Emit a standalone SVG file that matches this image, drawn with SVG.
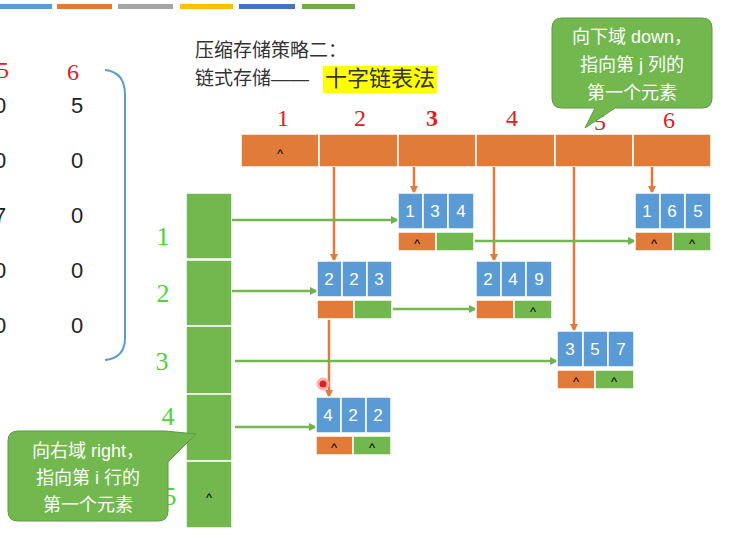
<svg xmlns="http://www.w3.org/2000/svg" width="746" height="538" viewBox="0 0 746 538">
<defs>
<marker id="ao" markerWidth="8" markerHeight="8" refX="7" refY="4" orient="auto" markerUnits="userSpaceOnUse"><path d="M0,0 L8,4 L0,8 z" fill="#E07B39"/></marker>
<marker id="ag" markerWidth="8" markerHeight="8" refX="7" refY="4" orient="auto" markerUnits="userSpaceOnUse"><path d="M0,0 L8,4 L0,8 z" fill="#70B050"/></marker>
</defs>
<style>
text{font-family:"Liberation Sans","Noto Sans CJK SC",sans-serif}
.b{fill:#5B9BD5;stroke:#fff;stroke-width:1.5}
.o{fill:#E07B39;stroke:#fff;stroke-width:1.5}
.g{fill:#72B84F;stroke:#fff;stroke-width:1.5}
.nt{fill:#fff;font-size:17px;text-anchor:middle}
.c{fill:#000;font-size:13px;text-anchor:middle}
.lo{stroke:#E07B39;stroke-width:2.5;fill:none;marker-end:url(#ao)}
.lg{stroke:#72B84F;stroke-width:2.5;fill:none;marker-end:url(#ag)}
.red{fill:#E02020;font-size:24px;font-family:"Liberation Serif",cursive;text-anchor:middle}
.grn{fill:#4FD33A;font-size:26px;font-family:"Liberation Serif",cursive;text-anchor:middle}
.m{fill:#222;font-size:22px;text-anchor:middle}
.ct{fill:#fff;font-size:18px;text-anchor:middle}
</style>
<rect width="746" height="538" fill="#fff"/>
<rect x="0" y="4" width="52" height="5" fill="#5B9BD5"/>
<rect x="57" y="4" width="55" height="5" fill="#E07B39"/>
<rect x="118" y="4" width="55" height="5" fill="#A5A5A5"/>
<rect x="180" y="4" width="53" height="5" fill="#FFC000"/>
<rect x="239" y="4" width="56" height="5" fill="#4472C4"/>
<rect x="302" y="4" width="53" height="5" fill="#70AD47"/>
<g id="matrix">
<text class="red" x="3" y="78">5</text><text class="red" x="73" y="80">6</text>
<text class="m" x="0" y="113">0</text><text class="m" x="77" y="113">5</text>
<text class="m" x="0" y="168">0</text><text class="m" x="77" y="168">0</text>
<text class="m" x="0" y="223">7</text><text class="m" x="77" y="223">0</text>
<text class="m" x="0" y="278">0</text><text class="m" x="77" y="278">0</text>
<text class="m" x="0" y="333">0</text><text class="m" x="77" y="333">0</text>
<path d="M105,70 Q125,72 125,95 L125,338 Q125,358 105,360" fill="none" stroke="#5B9BD5" stroke-width="2"/>
</g>
<g id="title">
<rect x="323" y="66" width="114" height="27" fill="#FFFF00"/>
<text x="195" y="57" font-size="19" fill="#333">压缩存储策略二：</text>
<text x="195" y="85" font-size="19" fill="#333">链式存储——</text>
<text x="325" y="86" font-size="22" fill="#333">十字链表法</text>
</g>
<g id="colhead">
<rect class="o" x="241" y="134" width="78" height="33"/>
<rect class="o" x="319" y="134" width="79" height="33"/>
<rect class="o" x="398" y="134" width="78" height="33"/>
<rect class="o" x="476" y="134" width="79" height="33"/>
<rect class="o" x="555" y="134" width="78" height="33"/>
<rect class="o" x="633" y="134" width="78" height="33"/>
<text class="c" x="280" y="158">^</text>
<text class="red" x="283" y="126">1</text><text class="red" x="360" y="126">2</text><text class="red" x="432" y="126" font-weight="bold">3</text><text class="red" x="512" y="126">4</text><text class="red" x="600" y="130">5</text><text class="red" x="669" y="128">6</text>
</g>
<g id="rowhead">
<rect class="g" x="186" y="193" width="46" height="66"/>
<rect class="g" x="186" y="260" width="46" height="66"/>
<rect class="g" x="186" y="326" width="46" height="68"/>
<rect class="g" x="186" y="394" width="46" height="67"/>
<rect class="g" x="186" y="461" width="46" height="67"/>
<text class="c" x="209" y="502">^</text>
<text class="grn" x="163" y="245">1</text><text class="grn" x="163" y="302">2</text><text class="grn" x="162" y="370">3</text><text class="grn" x="168" y="425">4</text><text class="grn" x="170" y="505">5</text>
</g>
<g id="connectors">
<line class="lo" x1="334" y1="167" x2="334" y2="261"/>
<line class="lo" x1="414" y1="167" x2="414" y2="193"/>
<line class="lo" x1="494" y1="167" x2="494" y2="261"/>
<line class="lo" x1="574" y1="167" x2="574" y2="331"/>
<line class="lo" x1="652" y1="167" x2="652" y2="193"/>
<line class="lo" x1="329" y1="318" x2="329" y2="397"/>
<line class="lg" x1="232" y1="220" x2="398" y2="220"/>
<line class="lg" x1="232" y1="291" x2="317" y2="291"/>
<line class="lg" x1="235" y1="361" x2="557" y2="361"/>
<line class="lg" x1="235" y1="427" x2="316" y2="427"/>
<line class="lg" x1="474" y1="241" x2="635" y2="241"/>
<line class="lg" x1="392" y1="309" x2="476" y2="309"/>
</g>
<g id="n134">
<rect class="b" x="398" y="193" width="25" height="36"/><rect class="b" x="423" y="193" width="25" height="36"/><rect class="b" x="448" y="193" width="26" height="36"/>
<text class="nt" x="410" y="217">1</text><text class="nt" x="435" y="217">3</text><text class="nt" x="461" y="217">4</text>
<rect class="o" x="398" y="232" width="38" height="19"/><rect class="g" x="436" y="232" width="38" height="19"/>
<text class="c" x="417" y="248">^</text>
</g>
<g id="n165">
<rect class="b" x="635" y="193" width="25" height="36"/><rect class="b" x="660" y="193" width="25" height="36"/><rect class="b" x="685" y="193" width="26" height="36"/>
<text class="nt" x="647" y="217">1</text><text class="nt" x="672" y="217">6</text><text class="nt" x="698" y="217">5</text>
<rect class="o" x="635" y="232" width="38" height="19"/><rect class="g" x="673" y="232" width="38" height="19"/>
<text class="c" x="654" y="248">^</text><text class="c" x="692" y="248">^</text>
</g>
<g id="n223">
<rect class="b" x="317" y="261" width="25" height="36"/><rect class="b" x="342" y="261" width="25" height="36"/><rect class="b" x="367" y="261" width="25" height="36"/>
<text class="nt" x="329" y="285">2</text><text class="nt" x="354" y="285">2</text><text class="nt" x="379" y="285">3</text>
<rect class="o" x="317" y="300" width="37" height="19"/><rect class="g" x="354" y="300" width="38" height="19"/>
</g>
<g id="n249">
<rect class="b" x="476" y="261" width="25" height="36"/><rect class="b" x="501" y="261" width="25" height="36"/><rect class="b" x="526" y="261" width="26" height="36"/>
<text class="nt" x="488" y="285">2</text><text class="nt" x="513" y="285">4</text><text class="nt" x="539" y="285">9</text>
<rect class="o" x="476" y="300" width="38" height="19"/><rect class="g" x="514" y="300" width="38" height="19"/>
<text class="c" x="533" y="316">^</text>
</g>
<g id="n357">
<rect class="b" x="557" y="331" width="26" height="36"/><rect class="b" x="583" y="331" width="25" height="36"/><rect class="b" x="608" y="331" width="26" height="36"/>
<text class="nt" x="570" y="355">3</text><text class="nt" x="595" y="355">5</text><text class="nt" x="621" y="355">7</text>
<rect class="o" x="557" y="370" width="38" height="19"/><rect class="g" x="595" y="370" width="39" height="19"/>
<text class="c" x="576" y="386">^</text><text class="c" x="614" y="386">^</text>
</g>
<g id="n422">
<rect class="b" x="316" y="397" width="25" height="36"/><rect class="b" x="341" y="397" width="25" height="36"/><rect class="b" x="366" y="397" width="25" height="36"/>
<text class="nt" x="328" y="421">4</text><text class="nt" x="353" y="421">2</text><text class="nt" x="378" y="421">2</text>
<rect class="o" x="316" y="436" width="37" height="19"/><rect class="g" x="353" y="436" width="38" height="19"/>
<text class="c" x="334" y="452">^</text><text class="c" x="372" y="452">^</text>
</g>
<circle cx="323" cy="384" r="5" fill="#E02020" stroke="#ffb0b0" stroke-width="3"/>
<g id="callout-down">
<path d="M562,18 H702 Q712,18 712,28 V98 Q712,108 702,108 H615 L585,128 L595,108 H562 Q552,108 552,98 V28 Q552,18 562,18 Z" fill="#72B84F" stroke="#5a9a40"/>
<text class="ct" x="632" y="43">向下域 down，</text>
<text class="ct" x="632" y="71">指向第 j 列的</text>
<text class="ct" x="632" y="99">第一个元素</text>
</g>
<g id="callout-right">
<path d="M18,431 H165 L196,434 L168,462 V511 Q168,521 158,521 H18 Q8,521 8,511 V441 Q8,431 18,431 Z" fill="#72B84F" stroke="#5a9a40"/>
<text class="ct" x="88" y="457">向右域 right，</text>
<text class="ct" x="88" y="484">指向第 i 行的</text>
<text class="ct" x="88" y="511">第一个元素</text>
</g>
</svg>
